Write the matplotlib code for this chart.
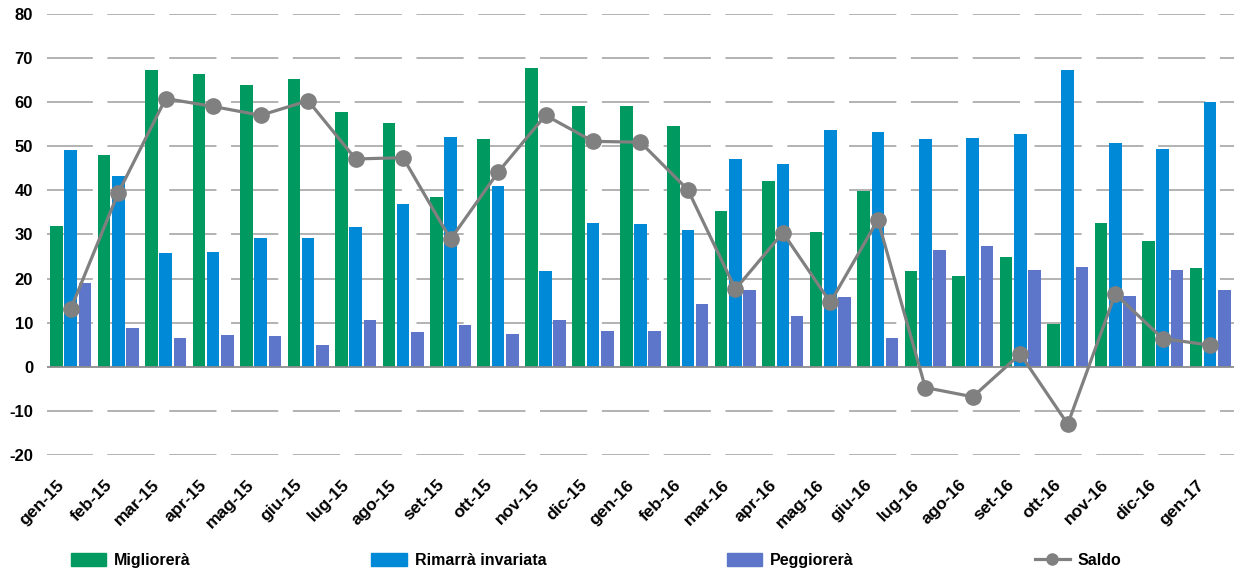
import matplotlib
matplotlib.use("Agg")
import matplotlib.pyplot as plt
import matplotlib.transforms as mtransforms
import numpy as np
from matplotlib.lines import Line2D
from matplotlib.patches import Patch

plt.rcParams['font.family'] = ['Liberation Sans', 'DejaVu Sans']
plt.rcParams['lines.scale_dashes'] = False

categories = ["gen-15", "feb-15", "mar-15", "apr-15", "mag-15", "giu-15", "lug-15",
              "ago-15", "set-15", "ott-15", "nov-15", "dic-15", "gen-16", "feb-16",
              "mar-16", "apr-16", "mag-16", "giu-16", "lug-16", "ago-16", "set-16",
              "ott-16", "nov-16", "dic-16", "gen-17"]
migliorera = [32.0, 48.0, 67.3, 66.4, 63.9, 65.2, 57.7, 55.2, 38.4, 51.6, 67.7, 59.1, 59.1,
              54.5, 35.2, 42.0, 30.5, 39.8, 21.8, 20.5, 24.8, 9.8, 32.7, 28.4, 22.3]
rimarra = [49.1, 43.2, 25.9, 26.1, 29.3, 29.3, 31.6, 36.8, 52.0, 40.9, 21.6, 32.5, 32.3,
           30.9, 47.0, 45.9, 53.6, 53.2, 51.6, 51.8, 52.7, 67.3, 50.7, 49.3, 60.0]
peggiorera = [18.9, 8.8, 6.6, 7.3, 6.9, 5.0, 10.7, 7.8, 9.5, 7.5, 10.7, 8.0, 8.2,
              14.3, 17.5, 11.6, 15.9, 6.6, 26.4, 27.3, 22.0, 22.7, 16.1, 22.0, 17.5]
saldo = [13.1, 39.4, 60.8, 59.0, 57.0, 60.3, 47.1, 47.4, 28.9, 44.1, 57.0, 51.1, 50.9,
         40.1, 17.6, 30.4, 14.6, 33.3, -4.7, -6.8, 2.9, -13.0, 16.5, 6.4, 4.9]
yticks = [-20, -10, 0, 10, 20, 30, 40, 50, 60, 70, 80]

c_green = "#00995F"
c_blue = "#0089D6"
c_purple = "#5D76C9"
c_line = "#808080"

fig = plt.figure(figsize=(12.37, 5.76), dpi=100)
ax = fig.add_axes([0.038, 0.21, 0.9595, 0.766])

x = np.arange(len(categories))
w = 0.265
off = 0.30
ax.bar(x - off, migliorera, w, color=c_green, zorder=2)
ax.bar(x, rimarra, w, color=c_blue, zorder=2)
ax.bar(x + off, peggiorera, w, color=c_purple, zorder=2)
ax.plot(x, saldo, color=c_line, lw=2.3, marker='o', ms=11, zorder=3)

ax.set_xlim(-0.5, len(categories) - 0.5)
ax.set_ylim(-20, 80)
for v in yticks:
    if v == 0:
        ax.axhline(0, color="#8C8C8C", lw=1.3, zorder=2.5)
    else:
        ax.axhline(v, color="#A6A6A6", lw=1.2, linestyle=(1, (34, 10.5)), zorder=1)

for s in ax.spines.values():
    s.set_visible(False)
ax.set_yticks(yticks)
ax.set_yticklabels([str(v) for v in yticks], fontsize=12, fontweight='bold')
ax.tick_params(axis='y', length=0, pad=10)
ax.set_xticks(x)
ax.set_xticklabels(categories, rotation=45, ha='right', rotation_mode='anchor',
                   fontsize=12.5, fontweight='bold')
ax.tick_params(axis='x', length=0, pad=16)
shift = mtransforms.ScaledTranslation(-14 / 100, 0, fig.dpi_scale_trans)
for lab in ax.get_xticklabels():
    lab.set_transform(lab.get_transform() + shift)

handles = [Patch(color=c_green, label="Migliorerà"),
           Patch(color=c_blue, label="Rimarrà invariata"),
           Patch(color=c_purple, label="Peggiorerà"),
           Line2D([0], [0], color=c_line, lw=2.3, marker='o', ms=8, label="Saldo")]
fig.legend(handles=handles, loc='center', ncol=4, mode='expand',
           bbox_to_anchor=(0.052, 0.0, 0.86, 0.055), frameon=False,
           prop={'weight': 'bold', 'size': 11.5}, handlelength=2.2, handleheight=0.9,
           handletextpad=0.5, borderaxespad=0)

fig.savefig("out.png", dpi=100)
